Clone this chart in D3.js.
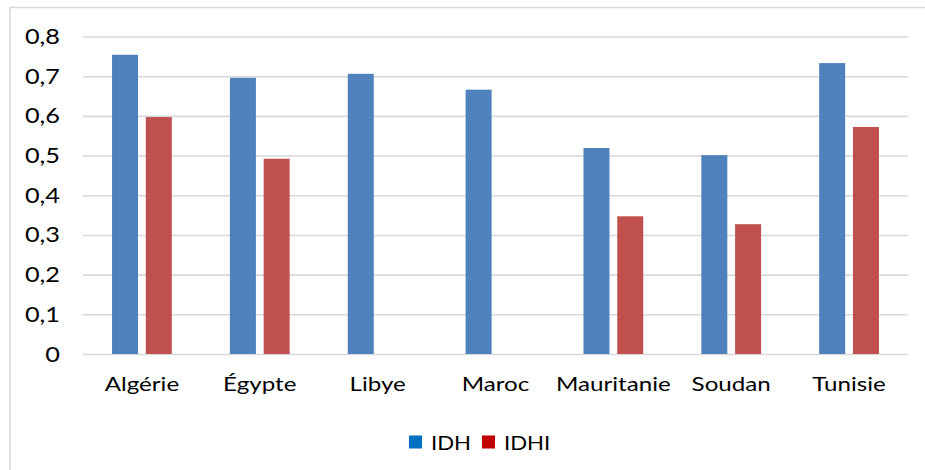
<!DOCTYPE html>
<html>
<head>
<meta charset="utf-8">
<script src="https://cdn.jsdelivr.net/npm/d3@7"></script>
<style>
  html, body { margin: 0; padding: 0; background: #fff; }
  svg { display: block; font-family: Lato, "Open Sans", sans-serif; }
</style>
</head>
<body>
<svg id="chart" width="925" height="470"></svg>
<script>
// Pays et indices de développement humain (IDH) et ajusté aux inégalités (IDHI)
const countries = ["Algérie", "Égypte", "Libye", "Maroc", "Mauritanie", "Soudan", "Tunisie"];
const idh  = [0.754, 0.696, 0.706, 0.666, 0.519, 0.501, 0.733];
const idhi = [0.597, 0.492, null,  null,  0.347, 0.327, 0.572];
const seriesNames = ["IDH", "IDHI"];
const yTicks = [0, 0.1, 0.2, 0.3, 0.4, 0.5, 0.6, 0.7, 0.8];

const barColors = ["#4F81BD", "#C0504D"];
const legendColors = ["#0070C0", "#C00000"];

const svg = d3.select("#chart");
const W = 925, H = 470;
const plot = { left: 83, right: 908, top: 36.5, bottom: 354 };

// Cadre extérieur du graphique
svg.append("rect")
  .attr("x", 10).attr("y", 7.5)
  .attr("width", W + 20).attr("height", H + 20)
  .attr("fill", "#fff")
  .attr("stroke", "#d9d9d9").attr("stroke-width", 1.5);

const x = d3.scaleBand()
  .domain(countries)
  .range([plot.left, plot.right])
  .paddingInner(0).paddingOuter(0);

const y = d3.scaleLinear()
  .domain([0, 0.8])
  .range([plot.bottom, plot.top]);

const xs = d3.scaleBand()
  .domain(seriesNames)
  .range([0, x.bandwidth()])
  .paddingInner(0.23)
  .paddingOuter(0.86);

// Grille horizontale et graduations de l'axe vertical
const yAxis = d3.axisLeft(y)
  .tickValues(yTicks)
  .tickSize(-(plot.right - plot.left))
  .tickPadding(0)
  .tickFormat(d => d3.format(".1f")(d).replace(".", ",").replace(/^0,0$/, "0"));

const gy = svg.append("g")
  .attr("transform", `translate(${plot.left},0)`)
  .call(yAxis);
gy.select(".domain").remove();
gy.selectAll(".tick line")
  .attr("stroke", "#d9d9d9").attr("stroke-width", 1.6);
gy.selectAll(".tick text")
  .attr("x", 0)
  .attr("transform", "translate(-23,0) scale(1.15,1)")
  .attr("fill", "#000")
  .attr("font-size", 22)
  .attr("font-family", "Lato, sans-serif");

// Barres
const rows = countries.map((c, i) => ({ country: c, values: [idh[i], idhi[i]] }));
const groups = svg.append("g").selectAll("g")
  .data(rows).join("g")
  .attr("transform", d => `translate(${x(d.country)},0)`);

groups.selectAll("rect")
  .data(d => d.values.map((v, j) => ({ key: seriesNames[j], value: v, j })).filter(e => e.value != null))
  .join("rect")
  .attr("x", d => xs(d.key))
  .attr("width", xs.bandwidth())
  .attr("y", d => y(d.value))
  .attr("height", d => y(0) - y(d.value))
  .attr("fill", d => barColors[d.j]);

// Étiquettes des pays
const xAxis = d3.axisBottom(x).tickSize(0).tickPadding(23);
const gx = svg.append("g")
  .attr("transform", `translate(0,${plot.bottom})`)
  .call(xAxis);
gx.select(".domain").remove();
gx.selectAll(".tick text")
  .attr("transform", "scale(1.24,1)")
  .attr("fill", "#000")
  .attr("font-size", 19.5)
  .attr("font-family", "Lato, sans-serif");

// Légende
const legend = svg.append("g").attr("font-family", "Lato, sans-serif").attr("font-size", 19.5);
const legendItems = [
  { name: seriesNames[0], color: legendColors[0], x: 409 },
  { name: seriesNames[1], color: legendColors[1], x: 482 }
];
legendItems.forEach(it => {
  legend.append("rect")
    .attr("x", it.x).attr("y", 435.5)
    .attr("width", 13).attr("height", 13)
    .attr("fill", it.color);
  legend.append("text")
    .attr("transform", `translate(${it.x + 22},450) scale(1.14,1)`)
    .attr("fill", "#000")
    .text(it.name);
});
</script>
</body>
</html>
